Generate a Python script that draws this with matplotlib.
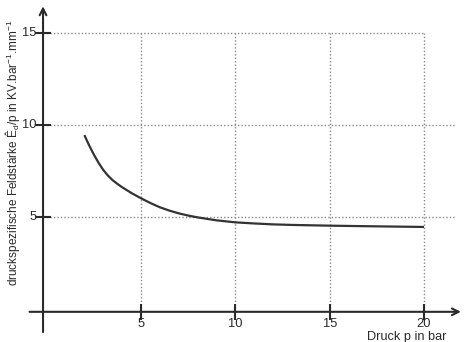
import numpy as np
import matplotlib.pyplot as plt

plt.rcParams['font.family'] = ['Liberation Sans', 'DejaVu Sans']
plt.rcParams['mathtext.fontset'] = 'custom'
plt.rcParams['mathtext.rm'] = 'Liberation Sans'
plt.rcParams['mathtext.it'] = 'Liberation Sans:italic'

# pressure in bar and specific field strength
pressure = [2.0, 2.25, 2.5, 2.75, 3.0, 3.25, 3.5, 3.75, 4.0, 4.5, 5.0, 5.5, 6.0,
            6.5, 7.0, 7.5, 8.0, 9.0, 10.0, 11.0, 12.0, 13.0, 14.0, 15.0, 17.0, 20.0]
field = [9.45, 8.9, 8.4, 7.95, 7.56, 7.25, 7.0, 6.8, 6.62, 6.3, 6.02, 5.76, 5.53,
         5.35, 5.2, 5.08, 4.98, 4.82, 4.71, 4.65, 4.6, 4.57, 4.55, 4.53, 4.5, 4.46]

x_ticks = [5, 10, 15, 20]
y_ticks = [5, 10, 15]
x_label = "Druck p in bar"
y_label = r"druckspezifische Feldstärke Ê$_\mathrm{d}$/p in KV.bar$^{-1}$.mm$^{-1}$"

fig = plt.figure(figsize=(4.65, 3.42), dpi=100)
ax = fig.add_axes([0, 0, 1, 1])
ax.set_xlim(-2.47, 22.17)
ax.set_ylim(-1.79, 16.79)
ax.axis('off')

x0, y0 = -0.19, -0.15
ink = '#2a2a2a'
grid_kw = dict(color='#8a8a8a', linestyle=(0, (1, 1.5)), linewidth=1.0, zorder=1)
ax.hlines(y_ticks[:-1], x0, 21.65, **grid_kw)
ax.hlines(y_ticks[-1:], x0, x_ticks[-1], **grid_kw)
ax.vlines(x_ticks, y0, y_ticks[-1], **grid_kw)

# axes with arrows
arrow_kw = dict(arrowstyle='->', color=ink, lw=1.5, mutation_scale=12)
ax.annotate('', xy=(22.1, y0), xytext=(-1.05, y0), arrowprops=arrow_kw)
ax.annotate('', xy=(x0, 16.6), xytext=(x0, -1.4), arrowprops=arrow_kw)

# tick marks
ax.plot(x_ticks, [y0] * len(x_ticks), linestyle='none', marker='|',
        markersize=11, markeredgewidth=1.5, color=ink, zorder=3)
ax.plot([x0] * len(y_ticks), y_ticks, linestyle='none', marker='_',
        markersize=11, markeredgewidth=1.5, color=ink, zorder=3)

for t in x_ticks:
    ax.text(t, -0.5, str(t), ha='center', va='top', fontsize=9.3, color=ink)
for t in y_ticks:
    ax.text(-0.53, t, str(t), ha='right', va='center', fontsize=9.3, color=ink)

ax.text(21.2, -1.52, x_label, ha='right', va='center', fontsize=9.2, color=ink)
ax.text(-1.82, 8.5, y_label, ha='center', va='center', rotation=90,
        fontsize=8.5, color=ink)

ax.plot(pressure, field, color='#333333', linewidth=1.6, zorder=4,
        solid_capstyle='butt', solid_joinstyle='round')

fig.savefig('out.png', dpi=100)
